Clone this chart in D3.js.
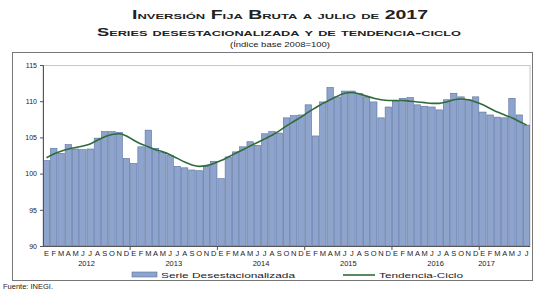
<!DOCTYPE html>
<html lang="es">
<head>
<meta charset="utf-8">
<title>Inversión Fija Bruta</title>
<script src="https://d3js.org/d3.v7.min.js"></script>
<style>
  body { margin: 0; background: #fff; }
  text { font-family: "Liberation Sans", Arial, sans-serif; fill: #222; }
</style>
</head>
<body>
<div id="chart"></div>
<script>
// months Jan 2012 .. Jul 2017
var years = ["2012", "2013", "2014", "2015", "2016", "2017"];
var monthLetters = ["E", "F", "M", "A", "M", "J", "J", "A", "S", "O", "N", "D"];

var serie = [
  101.8, 103.5, 102.8, 104.0, 103.4, 103.3, 103.4, 104.9, 105.8, 105.8, 105.7, 102.1,
  101.4, 103.7, 106.0, 103.5, 102.9, 102.5, 101.0, 100.8, 100.5, 100.4, 101.0, 101.7,
  99.3, 102.3, 103.0, 103.7, 104.4, 103.9, 105.5, 105.8, 105.6, 107.7, 108.0, 108.1,
  109.5, 105.2, 109.9, 111.9, 110.6, 111.4, 111.4, 111.1, 110.6, 109.9, 107.7, 109.2,
  110.0, 110.4, 110.5, 109.5, 109.3, 109.2, 108.8, 110.2, 111.1, 110.6, 110.2, 110.6,
  108.5, 108.1, 107.8, 107.7, 110.4, 108.1, 106.7
];
var tendencia = [
  102.2, 102.7, 103.1, 103.4, 103.6, 103.8, 104.1, 104.6, 105.1, 105.4, 105.5, 105.2,
  104.6, 104.1, 103.7, 103.3, 103.0, 102.6, 102.1, 101.6, 101.2, 101.0, 101.1, 101.4,
  101.8, 102.3, 102.8, 103.3, 103.8, 104.3, 104.8, 105.3, 105.9, 106.6, 107.2, 107.8,
  108.5, 109.1, 109.7, 110.2, 110.7, 111.1, 111.2, 111.0, 110.7, 110.4, 110.2, 110.1,
  110.1, 110.1, 110.0, 109.9, 109.8, 109.7, 109.7, 109.9, 110.2, 110.3, 110.2, 109.9,
  109.5, 109.0, 108.5, 108.1, 107.7, 107.2, 106.7
];
var yTicks = [90, 95, 100, 105, 110, 115];

var months = serie.map(function(v, i) { return i; });

var width = 538, height = 291;
var plot = {left: 43, right: 530, top: 65, bottom: 246};

var svg = d3.select("#chart").append("svg")
    .attr("width", width)
    .attr("height", height);

svg.append("rect").attr("width", width).attr("height", height).attr("fill", "#fff");

// titles
svg.append("text")
    .attr("x", 280).attr("y", 19)
    .attr("text-anchor", "middle")
    .style("font-size", "12px").style("font-weight", "bold")
    .style("font-variant", "small-caps")
    .attr("textLength", 296).attr("lengthAdjust", "spacingAndGlyphs")
    .text("Inversión Fija Bruta a julio de 2017");
svg.append("text")
    .attr("x", 279).attr("y", 36)
    .attr("text-anchor", "middle")
    .style("font-size", "10px").style("font-weight", "bold")
    .style("font-variant", "small-caps")
    .attr("textLength", 364).attr("lengthAdjust", "spacingAndGlyphs")
    .text("Series desestacionalizada y de tendencia-ciclo");
svg.append("text")
    .attr("x", 280).attr("y", 47)
    .attr("text-anchor", "middle")
    .style("font-size", "8px")
    .attr("textLength", 100).attr("lengthAdjust", "spacingAndGlyphs")
    .text("(Índice base 2008=100)");

// outer frame
svg.append("rect")
    .attr("x", 12.5).attr("y", 52.5)
    .attr("width", 520).attr("height", 228)
    .attr("fill", "none").attr("stroke", "#777").attr("stroke-width", 1);

// scales
var x = d3.scaleBand().domain(months).range([plot.left, plot.right]).paddingInner(0.12).paddingOuter(0.04);
var y = d3.scaleLinear().domain([90, 115]).range([plot.bottom, plot.top]);

// plot area border
svg.append("rect")
    .attr("x", plot.left).attr("y", plot.top + 0.5)
    .attr("width", plot.right - plot.left).attr("height", plot.bottom - plot.top)
    .attr("fill", "none").attr("stroke", "#c8c8c8");

// bars
svg.selectAll(".bar")
    .data(serie)
    .enter().append("rect")
    .attr("class", "bar")
    .attr("x", function(d, i) { return x(i); })
    .attr("width", x.bandwidth())
    .attr("y", function(d) { return y(d); })
    .attr("height", function(d) { return y(90) - y(d); })
    .attr("fill", "#8ea4cc")
    .attr("stroke", "#57709f")
    .attr("stroke-width", 0.6);

// trend line
var line = d3.line()
    .x(function(d, i) { return x(i) + x.bandwidth() / 2; })
    .y(function(d) { return y(d); })
    .curve(d3.curveMonotoneX);

svg.append("path")
    .datum(tendencia)
    .attr("d", line)
    .attr("fill", "none")
    .attr("stroke", "#2f6b3c")
    .attr("stroke-width", 1.6);

// y axis
var yAxis = svg.append("g")
    .attr("transform", "translate(" + plot.left + ",0)")
    .call(d3.axisLeft(y).tickValues(yTicks).tickSize(3).tickPadding(3));
yAxis.select(".domain").attr("stroke", "#555");
yAxis.selectAll(".tick line").attr("stroke", "#555");
yAxis.selectAll("text").style("font-size", "7px").style("font-family", "Liberation Sans, Arial, sans-serif").attr("fill", "#333");

// x axis
svg.append("line")
    .attr("x1", plot.left).attr("x2", plot.right)
    .attr("y1", plot.bottom + 0.5).attr("y2", plot.bottom + 0.5)
    .attr("stroke", "#555");

svg.selectAll(".yeartick")
    .data(years.slice(1))
    .enter().append("line")
    .attr("x1", function(d, i) { return x((i + 1) * 12) - x.step() * x.paddingInner() / 2; })
    .attr("x2", function(d, i) { return x((i + 1) * 12) - x.step() * x.paddingInner() / 2; })
    .attr("y1", plot.bottom).attr("y2", plot.bottom + 4)
    .attr("stroke", "#555");

svg.selectAll(".month")
    .data(months)
    .enter().append("text")
    .attr("class", "month")
    .attr("x", function(d) { return x(d) + x.bandwidth() / 2; })
    .attr("y", 256)
    .attr("text-anchor", "middle")
    .style("font-size", "7.5px")
    .text(function(d) { return monthLetters[d % 12]; });

svg.selectAll(".year")
    .data(years)
    .enter().append("text")
    .attr("class", "year")
    .attr("x", function(d, i) {
        var first = i * 12, last = Math.min(i * 12 + 11, serie.length - 1);
        if (last - first < 11) last = first + 1;
        return (x(first) + x(last) + x.bandwidth()) / 2;
    })
    .attr("y", 266)
    .attr("text-anchor", "middle")
    .style("font-size", "7.5px")
    .text(function(d) { return d; });

// legend
svg.append("rect")
    .attr("x", 132).attr("y", 272)
    .attr("width", 25).attr("height", 5)
    .attr("fill", "#8ea4cc").attr("stroke", "#57709f").attr("stroke-width", 0.6);
svg.append("text")
    .attr("x", 161).attr("y", 278)
    .style("font-size", "8px")
    .attr("textLength", 134).attr("lengthAdjust", "spacingAndGlyphs")
    .text("Serie Desestacionalizada");
svg.append("line")
    .attr("x1", 343).attr("x2", 375)
    .attr("y1", 275).attr("y2", 275)
    .attr("stroke", "#2f6b3c").attr("stroke-width", 1.6);
svg.append("text")
    .attr("x", 379).attr("y", 278)
    .style("font-size", "8px")
    .attr("textLength", 84).attr("lengthAdjust", "spacingAndGlyphs")
    .text("Tendencia-Ciclo");

svg.append("text")
    .attr("x", 3).attr("y", 289)
    .style("font-size", "7.5px")
    .text("Fuente: INEGI.");
</script>
</body>
</html>
